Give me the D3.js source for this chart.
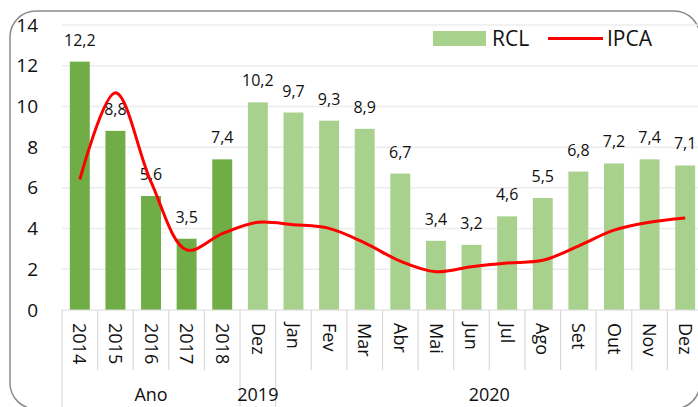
<!DOCTYPE html>
<html>
<head>
<meta charset="utf-8">
<script src="https://cdn.jsdelivr.net/npm/d3@7"></script>
<style>
  body { margin: 0; background: #fff; }
  text { font-family: "Open Sans", "Noto Sans", sans-serif; fill: #111; }
</style>
</head>
<body>
<svg id="chart" width="698" height="407"></svg>
<script>
// categories on the x axis
const categories = ["2014", "2015", "2016", "2017", "2018", "Dez",
  "Jan", "Fev", "Mar", "Abr", "Mai", "Jun", "Jul", "Ago", "Set", "Out", "Nov", "Dez"]
const groupLabels = ["Ano", "2019", "2020"]
const groupSizes = [5, 1, 12]
// RCL bars and IPCA line
const rcl = [12.2, 8.8, 5.6, 3.5, 7.4, 10.2, 9.7, 9.3, 8.9, 6.7, 3.4, 3.2, 4.6, 5.5, 6.8, 7.2, 7.4, 7.1]
const ipca = [6.41, 10.67, 6.29, 2.95, 3.75, 4.31, 4.19, 4.01, 3.30, 2.40, 1.88, 2.13, 2.31, 2.44, 3.14, 3.92, 4.31, 4.52]
const yTicks = [0, 2, 4, 6, 8, 10, 12, 14]

const darkGreen = "#70ad47"
const lightGreen = "#a9d18e"

var svg = d3.select("#chart")

// outer rounded frame
svg.append("rect")
    .attr("x", 10).attr("y", 11)
    .attr("width", 690).attr("height", 398)
    .attr("rx", 26)
    .attr("fill", "none")
    .attr("stroke", "#8c8c8c")
    .attr("stroke-width", 1.5)

let idx = categories.map((d, i) => i)

let x = d3.scaleBand()
    .domain(idx)
    .range([62, 703])
    .paddingInner(0.44)
    .paddingOuter(0.22)

let y = d3.scaleLinear()
    .domain([0, 14])
    .range([310, 25])

let gap = (x.step() - x.bandwidth()) / 2
let left = (i) => x(i) - gap
let mid = (i) => x(i) + x.bandwidth() / 2

// grid lines
svg.append("g")
    .selectAll("line")
    .data(yTicks.filter(d => d > 0))
    .join("line")
    .attr("x1", 62).attr("x2", 703)
    .attr("y1", d => y(d)).attr("y2", d => y(d))
    .attr("stroke", "#ececec")
    .attr("stroke-width", 1.5)

// y tick labels
let yAxis = svg.append("g")
    .attr("transform", "translate(44,0)")
    .call(d3.axisLeft(y).tickValues(yTicks).tickSize(0).tickPadding(6))
yAxis.select(".domain").remove()
yAxis.selectAll("text")
    .attr("font-size", 19)
    .attr("font-family", "Open Sans")
    .attr("fill", "#111")

// bars
svg.append("g")
    .selectAll("rect")
    .data(rcl)
    .join("rect")
    .attr("x", (d, i) => x(i))
    .attr("y", d => y(d))
    .attr("width", x.bandwidth())
    .attr("height", d => y(0) - y(d))
    .attr("fill", (d, i) => i < 5 ? darkGreen : lightGreen)

// value labels
svg.append("g")
    .selectAll("text")
    .data(rcl)
    .join("text")
    .attr("x", (d, i) => mid(i))
    .attr("y", d => y(d) - 16)
    .attr("text-anchor", "middle")
    .attr("font-size", 16)
    .text(d => d.toFixed(1).replace(".", ","))

// ipca line
let line = d3.line()
    .x((d, i) => mid(i))
    .y(d => y(d))
    .curve(d3.curveCatmullRom.alpha(0.5))

svg.append("path")
    .datum(ipca)
    .attr("d", line)
    .attr("fill", "none")
    .attr("stroke", "#ff0000")
    .attr("stroke-width", 3)

// x axis line and category dividers
let axisG = svg.append("g").attr("stroke", "#d9d9d9").attr("stroke-width", 1.2)
axisG.append("line")
    .attr("x1", 62).attr("x2", 703)
    .attr("y1", y(0)).attr("y2", y(0))

let groupStarts = [0]
groupSizes.forEach((n, k) => groupStarts.push(groupStarts[k] + n))

axisG.selectAll(".div")
    .data(idx.concat([categories.length]))
    .join("line")
    .attr("x1", i => i < categories.length ? left(i) : left(i - 1) + x.step())
    .attr("x2", i => i < categories.length ? left(i) : left(i - 1) + x.step())
    .attr("y1", y(0))
    .attr("y2", i => groupStarts.includes(i) ? 410 : 370)

// category labels, rotated
svg.append("g")
    .selectAll("text")
    .data(categories)
    .join("text")
    .attr("transform", (d, i) => `translate(${mid(i)},323) rotate(90)`)
    .attr("dy", "0.35em")
    .attr("font-size", 18)
    .text(d => d)

// group labels
let groupCenter = (k) => {
    let a = left(groupStarts[k])
    let b = left(groupStarts[k + 1] - 1) + x.step()
    return (a + b) / 2
}
svg.append("g")
    .selectAll("text")
    .data(groupLabels)
    .join("text")
    .attr("x", (d, k) => groupCenter(k))
    .attr("y", 401)
    .attr("text-anchor", "middle")
    .attr("font-size", 18)
    .text(d => d)

// legend
let legend = svg.append("g")
legend.append("rect")
    .attr("x", 433).attr("y", 31)
    .attr("width", 53).attr("height", 15)
    .attr("fill", lightGreen)
legend.append("text")
    .attr("x", 492).attr("y", 45.5)
    .attr("font-size", 21)
    .text("RCL")
legend.append("line")
    .attr("x1", 548).attr("x2", 603)
    .attr("y1", 38.5).attr("y2", 38.5)
    .attr("stroke", "#ff0000")
    .attr("stroke-width", 3)
legend.append("text")
    .attr("x", 607).attr("y", 45.5)
    .attr("font-size", 21)
    .text("IPCA")
</script>
</body>
</html>
